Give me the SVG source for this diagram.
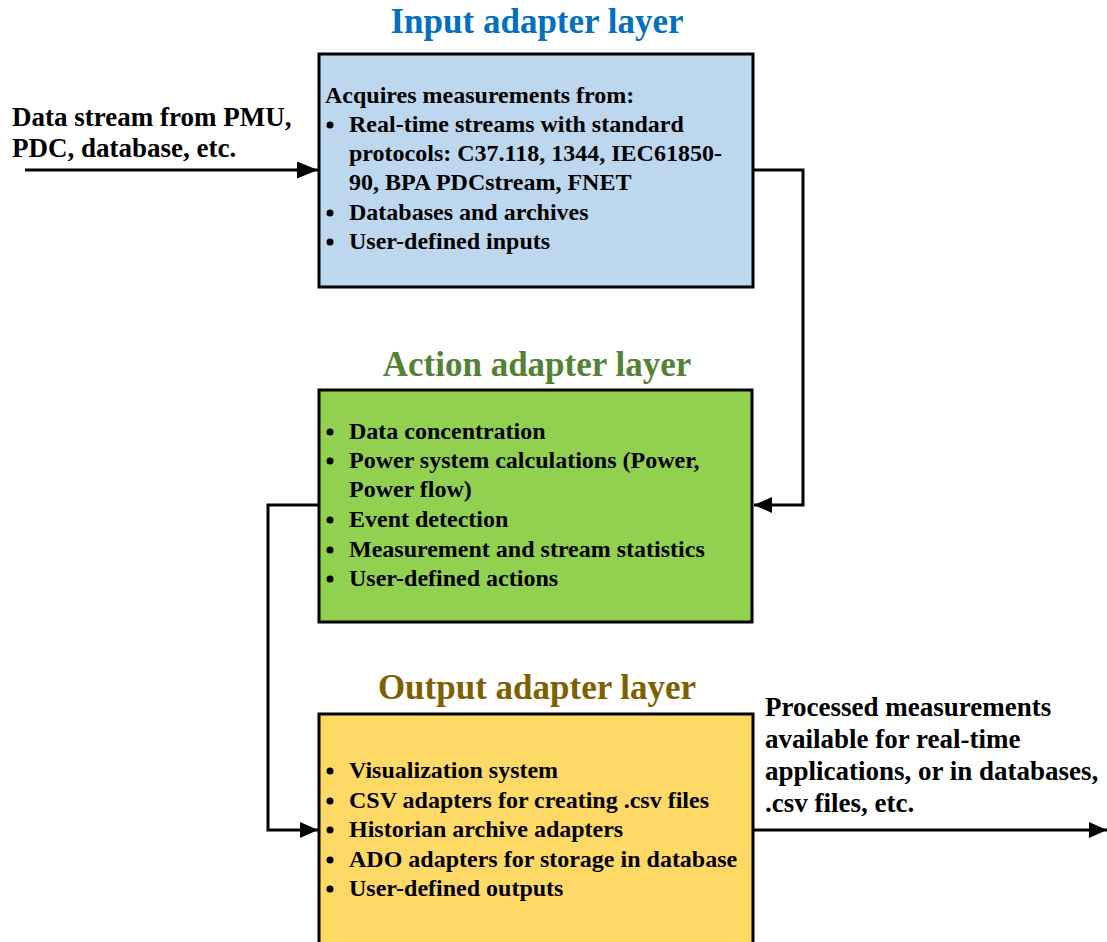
<svg xmlns="http://www.w3.org/2000/svg" width="1107" height="942" viewBox="0 0 1107 942">
<style>
text{font-family:"Liberation Serif","Times New Roman",serif;font-weight:bold;fill:#000}
.title{font-size:35px;text-anchor:middle}
.body{font-size:24px}
.lbl{font-size:27px}
.box{stroke:#000;stroke-width:3}
.conn{fill:none;stroke:#000;stroke-width:3}
.dot{fill:#000}
</style>
<defs>
<marker id="ah" markerUnits="userSpaceOnUse" markerWidth="20" markerHeight="18" refX="18" refY="8" orient="auto">
<path d="M0,0 L18,8 L0,16 z" fill="#000"/>
</marker>
<marker id="ahb" markerUnits="userSpaceOnUse" markerWidth="22" markerHeight="18" refX="21" refY="8.5" orient="auto">
<path d="M0,0 L21,8.5 L0,17 z" fill="#000"/>
</marker>
</defs>
<rect width="1107" height="942" fill="#fff"/>

<g id="input-layer">
<text class="title" x="537" y="33" style="fill:#0070C0">Input adapter layer</text>
<rect class="box" x="319" y="54" width="434" height="233" fill="#BDD7EE"/>
<text class="body" x="325" y="103">Acquires measurements from:</text>
<circle class="dot" cx="330" cy="125" r="3.5"/>
<text class="body" x="349" y="132">Real-time streams with standard</text>
<text class="body" x="349" y="161">protocols: C37.118, 1344, IEC61850-</text>
<text class="body" x="349" y="190">90, BPA PDCstream, FNET</text>
<circle class="dot" cx="330" cy="213" r="3.5"/>
<text class="body" x="349" y="220">Databases and archives</text>
<circle class="dot" cx="330" cy="242" r="3.5"/>
<text class="body" x="349" y="249">User-defined inputs</text>
</g>

<g id="action-layer">
<text class="title" x="537" y="376" style="fill:#548235">Action adapter layer</text>
<rect class="box" x="319" y="390" width="433" height="232" fill="#92D050"/>
<circle class="dot" cx="330" cy="432" r="3.5"/>
<text class="body" x="349" y="439">Data concentration</text>
<circle class="dot" cx="330" cy="461" r="3.5"/>
<text class="body" x="349" y="468">Power system calculations (Power,</text>
<text class="body" x="349" y="497">Power flow)</text>
<circle class="dot" cx="330" cy="520" r="3.5"/>
<text class="body" x="349" y="527">Event detection</text>
<circle class="dot" cx="330" cy="550" r="3.5"/>
<text class="body" x="349" y="557">Measurement and stream statistics</text>
<circle class="dot" cx="330" cy="579" r="3.5"/>
<text class="body" x="349" y="586">User-defined actions</text>
</g>

<g id="output-layer">
<text class="title" x="537" y="699" style="fill:#7F6000">Output adapter layer</text>
<rect class="box" x="319" y="714" width="434" height="240" fill="#FFD966"/>
<circle class="dot" cx="330" cy="771" r="3.5"/>
<text class="body" x="349" y="778">Visualization system</text>
<circle class="dot" cx="330" cy="801" r="3.5"/>
<text class="body" x="349" y="808">CSV adapters for creating .csv files</text>
<circle class="dot" cx="330" cy="830" r="3.5"/>
<text class="body" x="349" y="837">Historian archive adapters</text>
<circle class="dot" cx="330" cy="860" r="3.5"/>
<text class="body" x="349" y="867">ADO adapters for storage in database</text>
<circle class="dot" cx="330" cy="889" r="3.5"/>
<text class="body" x="349" y="896">User-defined outputs</text>
</g>

<g id="input-label">
<text class="lbl" x="12" y="126">Data stream from PMU,</text>
<text class="lbl" x="12" y="157">PDC, database, etc.</text>
</g>

<g id="output-label">
<text class="lbl" x="765" y="716">Processed measurements</text>
<text class="lbl" x="765" y="748">available for real-time</text>
<text class="lbl" x="765" y="780">applications, or in databases,</text>
<text class="lbl" x="765" y="812">.csv files, etc.</text>
</g>

<g id="connectors">
<path class="conn" d="M25,170 L318,170" marker-end="url(#ahb)"/>
<path class="conn" d="M753,170 L803,170 L803,505 L754,505" marker-end="url(#ah)"/>
<path class="conn" d="M319,505 L268,505 L268,830 L318,830" marker-end="url(#ah)"/>
<path class="conn" d="M753,830 L1107,830" marker-end="url(#ah)"/>
</g>
</svg>
